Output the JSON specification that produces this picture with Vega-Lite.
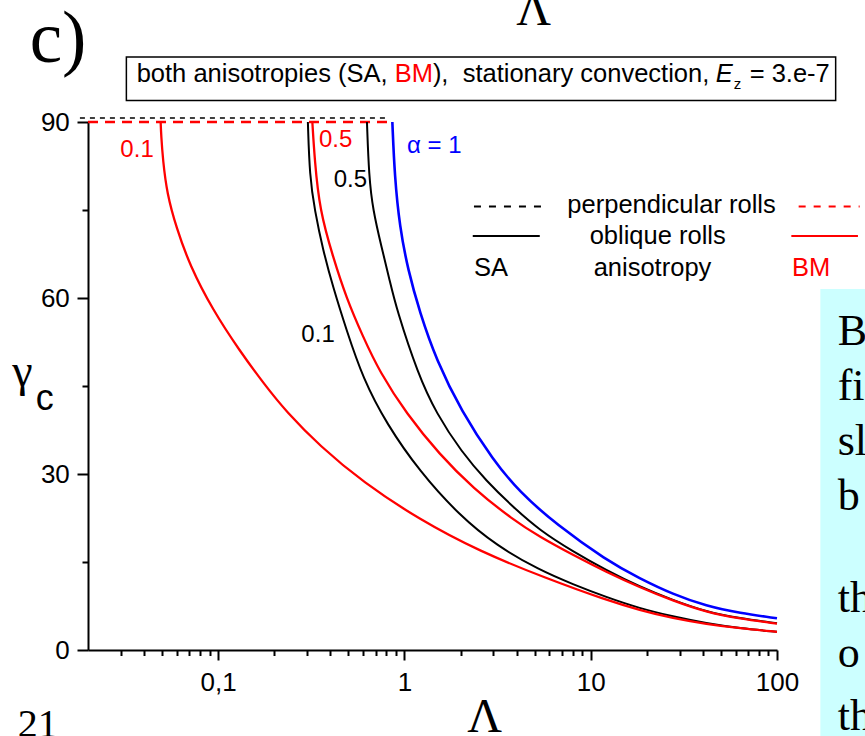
{
  "$schema": "https://vega.github.io/schema/vega-lite/v6.json",
  "width": 689,
  "height": 528,
  "autosize": {"type": "none"},
  "padding": {"left": 88, "top": 122, "right": 88, "bottom": 86},
  "background": "white",
  "config": {"view": {"stroke": null}},
  "resolve": {"axis": {"x": "independent", "y": "independent"}},
  "datasets": {
    "boxes": [
      {"box": "slide", "lambda": 170.9, "lambda2": 1000, "gamma": 61.53, "gamma2": -20},
      {"box": "title", "lambda": 0.03214, "lambda2": 206.5, "gamma": 101.08, "gamma2": 93.66}
    ],
    "perpendicular": [
      {"aniso": "SA", "lambda": 0.0181, "gamma": 90},
      {"aniso": "SA", "lambda": 0.802, "gamma": 90},
      {"aniso": "BM", "lambda": 0.02, "gamma": 90},
      {"aniso": "BM", "lambda": 0.853, "gamma": 90}
    ],
    "legendLines": [
      {"kind": "perpendicular", "aniso": "SA", "lambda": 2.361, "lambda2": 5.611, "gamma": 75.6},
      {"kind": "perpendicular", "aniso": "BM", "lambda": 130.7, "lambda2": 277.8, "gamma": 75.6},
      {"kind": "oblique", "aniso": "SA", "lambda": 2.326, "lambda2": 5.326, "gamma": 70.57},
      {"kind": "oblique", "aniso": "BM", "lambda": 119.4, "lambda2": 272.0, "gamma": 70.57}
    ],
    "curves": [
      {"series": "SA 0.1", "aniso": "SA", "lambda": 0.303, "gamma": 90},
      {"series": "SA 0.1", "aniso": "SA", "lambda": 0.3098, "gamma": 80.7},
      {"series": "SA 0.1", "aniso": "SA", "lambda": 0.3296, "gamma": 75.0},
      {"series": "SA 0.1", "aniso": "SA", "lambda": 0.3651, "gamma": 68.2},
      {"series": "SA 0.1", "aniso": "SA", "lambda": 0.4131, "gamma": 61.9},
      {"series": "SA 0.1", "aniso": "SA", "lambda": 0.4875, "gamma": 54.6},
      {"series": "SA 0.1", "aniso": "SA", "lambda": 0.6, "gamma": 46.2},
      {"series": "SA 0.1", "aniso": "SA", "lambda": 0.7995, "gamma": 38.6},
      {"series": "SA 0.1", "aniso": "SA", "lambda": 1.207, "gamma": 30.4},
      {"series": "SA 0.1", "aniso": "SA", "lambda": 1.978, "gamma": 22.9},
      {"series": "SA 0.1", "aniso": "SA", "lambda": 3.114, "gamma": 17.8},
      {"series": "SA 0.1", "aniso": "SA", "lambda": 5.318, "gamma": 13.6},
      {"series": "SA 0.1", "aniso": "SA", "lambda": 8.028, "gamma": 11.2},
      {"series": "SA 0.1", "aniso": "SA", "lambda": 12.13, "gamma": 9.0},
      {"series": "SA 0.1", "aniso": "SA", "lambda": 18.31, "gamma": 7.1},
      {"series": "SA 0.1", "aniso": "SA", "lambda": 27.64, "gamma": 5.7},
      {"series": "SA 0.1", "aniso": "SA", "lambda": 41.76, "gamma": 4.55},
      {"series": "SA 0.1", "aniso": "SA", "lambda": 63.03, "gamma": 3.7},
      {"series": "SA 0.1", "aniso": "SA", "lambda": 100, "gamma": 3.1},
      {"series": "SA 0.5", "aniso": "SA", "lambda": 0.629, "gamma": 90},
      {"series": "SA 0.5", "aniso": "SA", "lambda": 0.6447, "gamma": 80.7},
      {"series": "SA 0.5", "aniso": "SA", "lambda": 0.6774, "gamma": 75.0},
      {"series": "SA 0.5", "aniso": "SA", "lambda": 0.7515, "gamma": 68.8},
      {"series": "SA 0.5", "aniso": "SA", "lambda": 0.833, "gamma": 63.0},
      {"series": "SA 0.5", "aniso": "SA", "lambda": 0.9048, "gamma": 58.2},
      {"series": "SA 0.5", "aniso": "SA", "lambda": 1.182, "gamma": 47.0},
      {"series": "SA 0.5", "aniso": "SA", "lambda": 1.484, "gamma": 40.3},
      {"series": "SA 0.5", "aniso": "SA", "lambda": 2.021, "gamma": 33.8},
      {"series": "SA 0.5", "aniso": "SA", "lambda": 2.753, "gamma": 28.8},
      {"series": "SA 0.5", "aniso": "SA", "lambda": 3.823, "gamma": 24.4},
      {"series": "SA 0.5", "aniso": "SA", "lambda": 5.318, "gamma": 20.4},
      {"series": "SA 0.5", "aniso": "SA", "lambda": 8.028, "gamma": 16.8},
      {"series": "SA 0.5", "aniso": "SA", "lambda": 12.13, "gamma": 13.6},
      {"series": "SA 0.5", "aniso": "SA", "lambda": 18.31, "gamma": 10.8},
      {"series": "SA 0.5", "aniso": "SA", "lambda": 27.64, "gamma": 8.5},
      {"series": "SA 0.5", "aniso": "SA", "lambda": 41.76, "gamma": 6.5},
      {"series": "SA 0.5", "aniso": "SA", "lambda": 63.03, "gamma": 5.4},
      {"series": "SA 0.5", "aniso": "SA", "lambda": 100, "gamma": 4.55},
      {"series": "BM 0.1", "aniso": "BM", "lambda": 0.0491, "gamma": 90},
      {"series": "BM 0.1", "aniso": "BM", "lambda": 0.0494, "gamma": 87.8},
      {"series": "BM 0.1", "aniso": "BM", "lambda": 0.0505, "gamma": 83.5},
      {"series": "BM 0.1", "aniso": "BM", "lambda": 0.0531, "gamma": 77.8},
      {"series": "BM 0.1", "aniso": "BM", "lambda": 0.0596, "gamma": 72.0},
      {"series": "BM 0.1", "aniso": "BM", "lambda": 0.0703, "gamma": 65.6},
      {"series": "BM 0.1", "aniso": "BM", "lambda": 0.0937, "gamma": 57.9},
      {"series": "BM 0.1", "aniso": "BM", "lambda": 0.1304, "gamma": 51.0},
      {"series": "BM 0.1", "aniso": "BM", "lambda": 0.1776, "gamma": 45.2},
      {"series": "BM 0.1", "aniso": "BM", "lambda": 0.2323, "gamma": 40.6},
      {"series": "BM 0.1", "aniso": "BM", "lambda": 0.3505, "gamma": 34.8},
      {"series": "BM 0.1", "aniso": "BM", "lambda": 0.5987, "gamma": 28.6},
      {"series": "BM 0.1", "aniso": "BM", "lambda": 1.207, "gamma": 22.2},
      {"series": "BM 0.1", "aniso": "BM", "lambda": 2.533, "gamma": 16.8},
      {"series": "BM 0.1", "aniso": "BM", "lambda": 5.779, "gamma": 12.2},
      {"series": "BM 0.1", "aniso": "BM", "lambda": 12.13, "gamma": 8.5},
      {"series": "BM 0.1", "aniso": "BM", "lambda": 18.31, "gamma": 6.8},
      {"series": "BM 0.1", "aniso": "BM", "lambda": 27.64, "gamma": 5.4},
      {"series": "BM 0.1", "aniso": "BM", "lambda": 41.76, "gamma": 4.43},
      {"series": "BM 0.1", "aniso": "BM", "lambda": 63.03, "gamma": 3.7},
      {"series": "BM 0.1", "aniso": "BM", "lambda": 100, "gamma": 3.1},
      {"series": "BM 0.5", "aniso": "BM", "lambda": 0.3202, "gamma": 90},
      {"series": "BM 0.5", "aniso": "BM", "lambda": 0.3296, "gamma": 83.5},
      {"series": "BM 0.5", "aniso": "BM", "lambda": 0.3505, "gamma": 75.0},
      {"series": "BM 0.5", "aniso": "BM", "lambda": 0.4131, "gamma": 67.0},
      {"series": "BM 0.5", "aniso": "BM", "lambda": 0.4875, "gamma": 60.0},
      {"series": "BM 0.5", "aniso": "BM", "lambda": 0.5987, "gamma": 53.4},
      {"series": "BM 0.5", "aniso": "BM", "lambda": 0.7358, "gamma": 47.4},
      {"series": "BM 0.5", "aniso": "BM", "lambda": 1.024, "gamma": 40.3},
      {"series": "BM 0.5", "aniso": "BM", "lambda": 1.545, "gamma": 33.3},
      {"series": "BM 0.5", "aniso": "BM", "lambda": 2.332, "gamma": 27.6},
      {"series": "BM 0.5", "aniso": "BM", "lambda": 3.823, "gamma": 22.2},
      {"series": "BM 0.5", "aniso": "BM", "lambda": 5.318, "gamma": 19.3},
      {"series": "BM 0.5", "aniso": "BM", "lambda": 8.028, "gamma": 16.2},
      {"series": "BM 0.5", "aniso": "BM", "lambda": 12.13, "gamma": 13.3},
      {"series": "BM 0.5", "aniso": "BM", "lambda": 18.31, "gamma": 10.7},
      {"series": "BM 0.5", "aniso": "BM", "lambda": 27.64, "gamma": 8.4},
      {"series": "BM 0.5", "aniso": "BM", "lambda": 41.76, "gamma": 6.45},
      {"series": "BM 0.5", "aniso": "BM", "lambda": 63.03, "gamma": 5.35},
      {"series": "BM 0.5", "aniso": "BM", "lambda": 100, "gamma": 4.5},
      {"series": "alpha 1", "aniso": "both", "lambda": 0.8609, "gamma": 90},
      {"series": "alpha 1", "aniso": "both", "lambda": 0.8858, "gamma": 80.7},
      {"series": "alpha 1", "aniso": "both", "lambda": 0.9423, "gamma": 72.2},
      {"series": "alpha 1", "aniso": "both", "lambda": 1.044, "gamma": 64.8},
      {"series": "alpha 1", "aniso": "both", "lambda": 1.207, "gamma": 57.6},
      {"series": "alpha 1", "aniso": "both", "lambda": 1.484, "gamma": 49.4},
      {"series": "alpha 1", "aniso": "both", "lambda": 2.021, "gamma": 40.7},
      {"series": "alpha 1", "aniso": "both", "lambda": 2.987, "gamma": 32.4},
      {"series": "alpha 1", "aniso": "both", "lambda": 4.153, "gamma": 26.9},
      {"series": "alpha 1", "aniso": "both", "lambda": 6.54, "gamma": 21.4},
      {"series": "alpha 1", "aniso": "both", "lambda": 12.13, "gamma": 15.3},
      {"series": "alpha 1", "aniso": "both", "lambda": 18.31, "gamma": 12.2},
      {"series": "alpha 1", "aniso": "both", "lambda": 27.64, "gamma": 9.5},
      {"series": "alpha 1", "aniso": "both", "lambda": 41.76, "gamma": 7.5},
      {"series": "alpha 1", "aniso": "both", "lambda": 63.03, "gamma": 6.3},
      {"series": "alpha 1", "aniso": "both", "lambda": 100, "gamma": 5.4}
    ],
    "texts": [
      {"role": "curve", "text": "0.1", "lambda": 0.02984, "gamma": 84.09, "aniso": "BM"},
      {"role": "curve", "text": "0.5", "lambda": 0.3475, "gamma": 85.69, "aniso": "BM"},
      {"role": "curve", "text": "0.5", "lambda": 0.4169, "gamma": 78.87, "aniso": "SA"},
      {"role": "curve", "text": "0.1", "lambda": 0.2796, "gamma": 52.55, "aniso": "SA"},
      {"role": "curve", "text": "α = 1", "lambda": 1.0314, "gamma": 84.66, "aniso": "both"},
      {"role": "legend", "text": "perpendicular rolls", "lambda": 7.492, "gamma": 74.43, "aniso": "none"},
      {"role": "legend", "text": "oblique rolls", "lambda": 9.869, "gamma": 69.2, "aniso": "none"},
      {"role": "legend", "text": "SA", "lambda": 2.361, "gamma": 63.75, "aniso": "SA"},
      {"role": "legend", "text": "anisotropy", "lambda": 10.369, "gamma": 63.75, "aniso": "none"},
      {"role": "legend", "text": "BM", "lambda": 120.32, "gamma": 63.75, "aniso": "BM"},
      {"role": "title", "text": "both anisotropies (SA,", "lambda": 0.0365, "gamma": 96.82, "aniso": "none"},
      {"role": "title", "text": "BM", "lambda": 0.8857, "gamma": 96.82, "aniso": "BM"},
      {"role": "title", "text": "),\u00a0 stationary convection,", "lambda": 1.4209, "gamma": 96.82, "aniso": "none"},
      {"role": "title", "text": "= 3.e-7", "lambda": 71.33, "gamma": 96.82, "aniso": "none"},
      {"role": "titleItalic", "text": "E", "lambda": 46.9, "gamma": 96.82, "aniso": "none"},
      {"role": "titleSub", "text": "z", "lambda": 58.6, "gamma": 95.63, "aniso": "none"},
      {"role": "lambdaTitle", "text": "Λ", "lambda": 2.176, "gamma": -13.94, "aniso": "none"},
      {"role": "lambdaTitle", "text": "Λ", "lambda": 3.988, "gamma": 106.53, "aniso": "none"},
      {"role": "gammaTitle", "text": "γ", "lambda": 0.007852, "gamma": 45.05, "aniso": "none"},
      {"role": "gammaSub", "text": "c", "lambda": 0.01047, "gamma": 40.91, "aniso": "none"},
      {"role": "panel", "text": "c)", "lambda": 0.009723, "gamma": 100.23, "aniso": "none"},
      {"role": "page", "text": "21", "lambda": 0.00838, "gamma": -14.83, "aniso": "none"},
      {"role": "slide", "text": "B", "lambda": 211.7, "gamma": 52.0, "aniso": "none"},
      {"role": "slide", "text": "fi", "lambda": 211.7, "gamma": 42.6, "aniso": "none"},
      {"role": "slide", "text": "sl", "lambda": 211.7, "gamma": 33.2, "aniso": "none"},
      {"role": "slide", "text": "b", "lambda": 211.7, "gamma": 23.9, "aniso": "none"},
      {"role": "slide", "text": "th", "lambda": 211.7, "gamma": 6.48, "aniso": "none"},
      {"role": "slide", "text": "o", "lambda": 211.7, "gamma": -2.9, "aniso": "none"},
      {"role": "slide", "text": "th", "lambda": 211.7, "gamma": -13.6, "aniso": "none"}
    ]
  },
  "layer": [
    {
      "data": {"name": "boxes"},
      "transform": [{"filter": "datum.box == 'slide'"}],
      "mark": {"type": "rect", "fill": "#ccffff"},
      "encoding": {
        "x": {"field": "lambda", "type": "quantitative", "scale": {"type": "log", "domain": [0.02, 100], "nice": false}, "axis": null},
        "x2": {"field": "lambda2"},
        "y": {"field": "gamma", "type": "quantitative", "scale": {"domain": [0, 90], "nice": false, "zero": false}, "axis": null},
        "y2": {"field": "gamma2"}
      }
    },
    {
      "data": {"name": "boxes"},
      "transform": [{"filter": "datum.box == 'title'"}],
      "mark": {"type": "rect", "filled": false, "stroke": "#000000", "strokeWidth": 1.5},
      "encoding": {
        "x": {"field": "lambda", "type": "quantitative", "scale": {"type": "log", "domain": [0.02, 100], "nice": false}, "axis": null},
        "x2": {"field": "lambda2"},
        "y": {"field": "gamma", "type": "quantitative", "scale": {"domain": [0, 90], "nice": false, "zero": false}, "axis": null},
        "y2": {"field": "gamma2"}
      }
    },
    {
      "data": {"name": "perpendicular"},
      "transform": [{"filter": "datum.aniso == 'SA'"}],
      "mark": {"type": "line", "color": "#000000", "strokeWidth": 1.5, "strokeDash": [5, 5], "yOffset": -4},
      "encoding": {
        "x": {"field": "lambda", "type": "quantitative", "scale": {"type": "log", "domain": [0.02, 100], "nice": false}, "axis": null},
        "y": {"field": "gamma", "type": "quantitative", "scale": {"domain": [0, 90], "nice": false, "zero": false}, "axis": null}
      }
    },
    {
      "data": {"name": "perpendicular"},
      "transform": [{"filter": "datum.aniso == 'BM'"}],
      "mark": {"type": "line", "color": "#ff0000", "strokeWidth": 2.5, "strokeDash": [10, 7]},
      "encoding": {
        "x": {"field": "lambda", "type": "quantitative", "scale": {"type": "log", "domain": [0.02, 100], "nice": false}, "axis": null},
        "y": {"field": "gamma", "type": "quantitative", "scale": {"domain": [0, 90], "nice": false, "zero": false}, "axis": null}
      }
    },
    {
      "data": {"name": "curves"},
      "transform": [{"filter": "datum.aniso == 'SA'"}],
      "mark": {"type": "line", "strokeWidth": 2, "interpolate": "basis"},
      "encoding": {
        "x": {"field": "lambda", "type": "quantitative", "scale": {"type": "log", "domain": [0.02, 100], "nice": false},
          "axis": {
            "orient": "bottom",
            "values": [0.1, 1, 10, 100],
            "labelExpr": "datum.value == 0.1 ? '0,1' : datum.value == 1 ? '1' : datum.value == 10 ? '10' : '100'",
            "tickSize": 10, "title": null, "grid": false, "labelFont": "Liberation Sans", "labelFontSize": 26, "labelColor": "#000000",
            "labelPadding": 9, "labelFlush": false, "labelOverlap": false, "labelBound": false,
            "domainColor": "#000000", "domainWidth": 2, "tickColor": "#000000", "tickWidth": 2
          }},
        "y": {"field": "gamma", "type": "quantitative", "scale": {"domain": [0, 90], "nice": false, "zero": false},
          "axis": {
            "orient": "left",
            "values": [0, 30, 60, 90],
            "tickSize": 11, "title": null, "grid": false, "labelFont": "Liberation Sans", "labelFontSize": 26, "labelColor": "#000000",
            "labelPadding": 7.7, "labelFlush": false, "labelOverlap": false, "labelBound": false,
            "domainColor": "#000000", "domainWidth": 2, "tickColor": "#000000", "tickWidth": 2
          }},
        "color": {"field": "aniso", "type": "nominal", "scale": {"domain": ["SA", "BM", "both", "none"], "range": ["#000000", "#ff0000", "#0000ff", "#000000"]}, "legend": null},
        "detail": {"field": "series"}
      }
    },
    {
      "data": {"name": "curves"},
      "transform": [{"filter": "datum.aniso == 'BM'"}],
      "mark": {"type": "line", "strokeWidth": 2.3, "interpolate": "basis"},
      "encoding": {
        "x": {"field": "lambda", "type": "quantitative", "scale": {"type": "log", "domain": [0.02, 100], "nice": false},
          "axis": {
            "orient": "bottom",
            "values": [0.03, 0.04, 0.05, 0.06, 0.07, 0.08, 0.09, 0.2, 0.3, 0.4, 0.5, 0.6, 0.7, 0.8, 0.9, 2, 3, 4, 5, 6, 7, 8, 9, 20, 30, 40, 50, 60, 70, 80, 90],
            "labels": false, "tickSize": 5.5, "title": null, "grid": false, "domain": false,
            "tickColor": "#000000", "tickWidth": 2
          }},
        "y": {"field": "gamma", "type": "quantitative", "scale": {"domain": [0, 90], "nice": false, "zero": false},
          "axis": {
            "orient": "left",
            "values": [15, 45, 75],
            "labels": false, "tickSize": 6, "title": null, "grid": false, "domain": false,
            "tickColor": "#000000", "tickWidth": 2
          }},
        "color": {"field": "aniso", "type": "nominal", "scale": {"domain": ["SA", "BM", "both", "none"], "range": ["#000000", "#ff0000", "#0000ff", "#000000"]}, "legend": null},
        "detail": {"field": "series"}
      }
    },
    {
      "data": {"name": "curves"},
      "transform": [{"filter": "datum.aniso == 'both'"}],
      "mark": {"type": "line", "strokeWidth": 2.6, "interpolate": "basis"},
      "encoding": {
        "x": {"field": "lambda", "type": "quantitative", "scale": {"type": "log", "domain": [0.02, 100], "nice": false}, "axis": null},
        "y": {"field": "gamma", "type": "quantitative", "scale": {"domain": [0, 90], "nice": false, "zero": false}, "axis": null},
        "color": {"field": "aniso", "type": "nominal", "scale": {"domain": ["SA", "BM", "both", "none"], "range": ["#000000", "#ff0000", "#0000ff", "#000000"]}, "legend": null},
        "detail": {"field": "series"}
      }
    },
    {
      "data": {"name": "legendLines"},
      "transform": [{"filter": "datum.kind == 'perpendicular'"}],
      "mark": {"type": "rule", "strokeWidth": 2, "strokeDash": [7, 8]},
      "encoding": {
        "x": {"field": "lambda", "type": "quantitative", "scale": {"type": "log", "domain": [0.02, 100], "nice": false}, "axis": null},
        "x2": {"field": "lambda2"},
        "y": {"field": "gamma", "type": "quantitative", "scale": {"domain": [0, 90], "nice": false, "zero": false}, "axis": null},
        "color": {"field": "aniso", "type": "nominal", "scale": {"domain": ["SA", "BM", "both", "none"], "range": ["#000000", "#ff0000", "#0000ff", "#000000"]}, "legend": null}
      }
    },
    {
      "data": {"name": "legendLines"},
      "transform": [{"filter": "datum.kind == 'oblique'"}],
      "mark": {"type": "rule", "strokeWidth": 2},
      "encoding": {
        "x": {"field": "lambda", "type": "quantitative", "scale": {"type": "log", "domain": [0.02, 100], "nice": false}, "axis": null},
        "x2": {"field": "lambda2"},
        "y": {"field": "gamma", "type": "quantitative", "scale": {"domain": [0, 90], "nice": false, "zero": false}, "axis": null},
        "color": {"field": "aniso", "type": "nominal", "scale": {"domain": ["SA", "BM", "both", "none"], "range": ["#000000", "#ff0000", "#0000ff", "#000000"]}, "legend": null}
      }
    },
    {
      "data": {"name": "texts"},
      "transform": [{"filter": "datum.role == 'curve'"}],
      "mark": {"type": "text", "font": "Liberation Sans", "fontSize": 24, "align": "left", "baseline": "alphabetic"},
      "encoding": {
        "x": {"field": "lambda", "type": "quantitative", "scale": {"type": "log", "domain": [0.02, 100], "nice": false}, "axis": null},
        "y": {"field": "gamma", "type": "quantitative", "scale": {"domain": [0, 90], "nice": false, "zero": false}, "axis": null},
        "text": {"field": "text"},
        "color": {"field": "aniso", "type": "nominal", "scale": {"domain": ["SA", "BM", "both", "none"], "range": ["#000000", "#ff0000", "#0000ff", "#000000"]}, "legend": null}
      }
    },
    {
      "data": {"name": "texts"},
      "transform": [{"filter": "datum.role == 'legend' || datum.role == 'title'"}],
      "mark": {"type": "text", "font": "Liberation Sans", "fontSize": 25.5, "align": "left", "baseline": "alphabetic"},
      "encoding": {
        "x": {"field": "lambda", "type": "quantitative", "scale": {"type": "log", "domain": [0.02, 100], "nice": false}, "axis": null},
        "y": {"field": "gamma", "type": "quantitative", "scale": {"domain": [0, 90], "nice": false, "zero": false}, "axis": null},
        "text": {"field": "text"},
        "color": {"field": "aniso", "type": "nominal", "scale": {"domain": ["SA", "BM", "both", "none"], "range": ["#000000", "#ff0000", "#0000ff", "#000000"]}, "legend": null}
      }
    },
    {
      "data": {"name": "texts"},
      "transform": [{"filter": "datum.role == 'titleItalic'"}],
      "mark": {"type": "text", "font": "Liberation Sans", "fontSize": 25.5, "fontStyle": "italic", "align": "left", "baseline": "alphabetic", "color": "#000000"},
      "encoding": {
        "x": {"field": "lambda", "type": "quantitative", "scale": {"type": "log", "domain": [0.02, 100], "nice": false}, "axis": null},
        "y": {"field": "gamma", "type": "quantitative", "scale": {"domain": [0, 90], "nice": false, "zero": false}, "axis": null},
        "text": {"field": "text"}
      }
    },
    {
      "data": {"name": "texts"},
      "transform": [{"filter": "datum.role == 'titleSub'"}],
      "mark": {"type": "text", "font": "Liberation Sans", "fontSize": 15, "align": "left", "baseline": "alphabetic", "color": "#000000"},
      "encoding": {
        "x": {"field": "lambda", "type": "quantitative", "scale": {"type": "log", "domain": [0.02, 100], "nice": false}, "axis": null},
        "y": {"field": "gamma", "type": "quantitative", "scale": {"domain": [0, 90], "nice": false, "zero": false}, "axis": null},
        "text": {"field": "text"}
      }
    },
    {
      "data": {"name": "texts"},
      "transform": [{"filter": "datum.role == 'lambdaTitle'"}],
      "mark": {"type": "text", "font": "Liberation Serif", "fontSize": 48, "align": "left", "baseline": "alphabetic", "color": "#000000"},
      "encoding": {
        "x": {"field": "lambda", "type": "quantitative", "scale": {"type": "log", "domain": [0.02, 100], "nice": false}, "axis": null},
        "y": {"field": "gamma", "type": "quantitative", "scale": {"domain": [0, 90], "nice": false, "zero": false}, "axis": null},
        "text": {"field": "text"}
      }
    },
    {
      "data": {"name": "texts"},
      "transform": [{"filter": "datum.role == 'gammaTitle'"}],
      "mark": {"type": "text", "font": "Liberation Serif", "fontSize": 46, "align": "left", "baseline": "alphabetic", "color": "#000000"},
      "encoding": {
        "x": {"field": "lambda", "type": "quantitative", "scale": {"type": "log", "domain": [0.02, 100], "nice": false}, "axis": null},
        "y": {"field": "gamma", "type": "quantitative", "scale": {"domain": [0, 90], "nice": false, "zero": false}, "axis": null},
        "text": {"field": "text"}
      }
    },
    {
      "data": {"name": "texts"},
      "transform": [{"filter": "datum.role == 'gammaSub'"}],
      "mark": {"type": "text", "font": "Liberation Sans", "fontSize": 36, "align": "left", "baseline": "alphabetic", "color": "#000000"},
      "encoding": {
        "x": {"field": "lambda", "type": "quantitative", "scale": {"type": "log", "domain": [0.02, 100], "nice": false}, "axis": null},
        "y": {"field": "gamma", "type": "quantitative", "scale": {"domain": [0, 90], "nice": false, "zero": false}, "axis": null},
        "text": {"field": "text"}
      }
    },
    {
      "data": {"name": "texts"},
      "transform": [{"filter": "datum.role == 'panel'"}],
      "mark": {"type": "text", "font": "Liberation Serif", "fontSize": 73, "align": "left", "baseline": "alphabetic", "color": "#000000"},
      "encoding": {
        "x": {"field": "lambda", "type": "quantitative", "scale": {"type": "log", "domain": [0.02, 100], "nice": false}, "axis": null},
        "y": {"field": "gamma", "type": "quantitative", "scale": {"domain": [0, 90], "nice": false, "zero": false}, "axis": null},
        "text": {"field": "text"}
      }
    },
    {
      "data": {"name": "texts"},
      "transform": [{"filter": "datum.role == 'page'"}],
      "mark": {"type": "text", "font": "Liberation Serif", "fontSize": 40, "align": "left", "baseline": "alphabetic", "color": "#000000"},
      "encoding": {
        "x": {"field": "lambda", "type": "quantitative", "scale": {"type": "log", "domain": [0.02, 100], "nice": false}, "axis": null},
        "y": {"field": "gamma", "type": "quantitative", "scale": {"domain": [0, 90], "nice": false, "zero": false}, "axis": null},
        "text": {"field": "text"}
      }
    },
    {
      "data": {"name": "texts"},
      "transform": [{"filter": "datum.role == 'slide'"}],
      "mark": {"type": "text", "font": "Liberation Serif", "fontSize": 44, "align": "left", "baseline": "alphabetic", "color": "#000000"},
      "encoding": {
        "x": {"field": "lambda", "type": "quantitative", "scale": {"type": "log", "domain": [0.02, 100], "nice": false}, "axis": null},
        "y": {"field": "gamma", "type": "quantitative", "scale": {"domain": [0, 90], "nice": false, "zero": false}, "axis": null},
        "text": {"field": "text"}
      }
    }
  ]
}
